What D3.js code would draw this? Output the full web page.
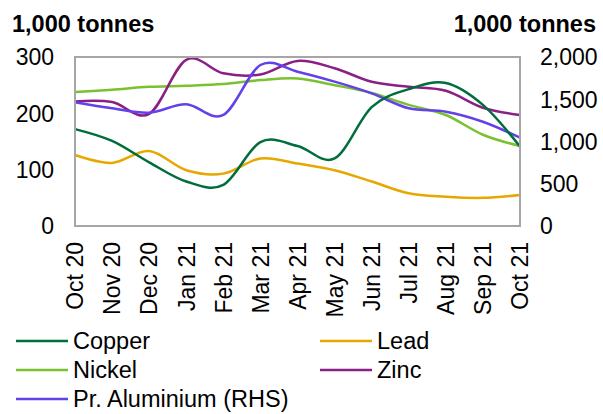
<!DOCTYPE html>
<html>
<head>
<meta charset="utf-8">
<script src="https://cdn.jsdelivr.net/npm/d3@7"></script>
<style>
  body { margin: 0; background: #fff; }
  svg { display: block; font-family: "Liberation Sans", Arial, sans-serif; }
</style>
</head>
<body>
<script>
// months along the x axis
var months = ["Oct 20","Nov 20","Dec 20","Jan 21","Feb 21","Mar 21","Apr 21",
              "May 21","Jun 21","Jul 21","Aug 21","Sep 21","Oct 21"];

// stocks, 1,000 tonnes (left axis)
var copper = [172, 151, 113, 79, 73, 149, 142, 120, 211, 243, 254, 215, 141];
var lead   = [126, 112, 133, 99, 93, 120, 111, 99, 79, 58, 52, 50, 55];
var nickel = [238, 242, 247, 249, 252, 259, 262, 250, 236, 215, 197, 162, 142];
var zinc   = [221, 220, 199, 295, 271, 269, 293, 280, 256, 247, 240, 210, 197];
// right axis
var aluminium = [1464, 1393, 1341, 1440, 1314, 1905, 1826, 1708, 1570, 1393, 1353, 1234, 1045];

var leftTicks = [0, 100, 200, 300];
var rightTicks = [0, 500, 1000, 1500, 2000];

var W = 603, H = 414;
var plot = {left: 75, right: 520, top: 57, bottom: 226};
var fs = 23;      // axis labels
var legFs = 23.5; // legend labels

var svg = d3.select("body").append("svg")
    .attr("width", W)
    .attr("height", H);

var x = d3.scalePoint().domain(months).range([plot.left, plot.right]);
var yL = d3.scaleLinear().domain([0, 300]).range([plot.bottom, plot.top]);
var yR = d3.scaleLinear().domain([0, 2000]).range([plot.bottom, plot.top]);

// units titles
svg.append("text")
    .attr("x", 12).attr("y", 32)
    .attr("font-size", 23.5).attr("font-weight", "bold")
    .text("1,000 tonnes");
svg.append("text")
    .attr("x", 596).attr("y", 32)
    .attr("text-anchor", "end")
    .attr("font-size", 23.5).attr("font-weight", "bold")
    .text("1,000 tonnes");

// y tick labels
svg.selectAll(".ltick").data(leftTicks).enter().append("text")
    .attr("x", 54)
    .attr("y", d => yL(d))
    .attr("dy", "0.36em")
    .attr("text-anchor", "end")
    .attr("font-size", fs)
    .text(d => d3.format(",")(d));

svg.selectAll(".rtick").data(rightTicks).enter().append("text")
    .attr("x", 540)
    .attr("y", d => yR(d))
    .attr("dy", "0.36em")
    .attr("font-size", fs)
    .text(d => d3.format(",")(d));

// x labels, rotated
svg.selectAll(".xlab").data(months).enter().append("text")
    .attr("transform", d => "translate(" + x(d) + ",242) rotate(-90)")
    .attr("dy", "0.36em")
    .attr("text-anchor", "end")
    .attr("font-size", fs)
    .text(d => d);

// series
var series = [
  {name: "Copper", values: copper, color: "#006d3c", scale: yL},
  {name: "Lead", values: lead, color: "#e6a800", scale: yL},
  {name: "Nickel", values: nickel, color: "#7ac130", scale: yL},
  {name: "Zinc", values: zinc, color: "#8a1f86", scale: yL},
  {name: "Pr. Aluminium (RHS)", values: aluminium, color: "#6240ea", scale: yR}
];

// draw order roughly as in the picture
var drawOrder = [1, 2, 3, 4, 0];
drawOrder.forEach(function(k) {
  var s = series[k];
  var line = d3.line()
      .x((d, i) => x(months[i]))
      .y(d => s.scale(d))
      .curve(d3.curveCatmullRom.alpha(0));
  svg.append("path")
      .datum(s.values)
      .attr("fill", "none")
      .attr("stroke", s.color)
      .attr("stroke-width", 2.5)
      .attr("d", line);
});

// plot border
svg.append("rect")
    .attr("x", plot.left).attr("y", plot.top)
    .attr("width", plot.right - plot.left)
    .attr("height", plot.bottom - plot.top)
    .attr("fill", "none")
    .attr("stroke", "#a6a6a6")
    .attr("stroke-width", 2);

// legend
var legPos = [[16, 341], [320, 341], [16, 370], [320, 370], [16, 399]];
series.forEach(function(s, i) {
  var p = legPos[i];
  svg.append("line")
      .attr("x1", p[0]).attr("x2", p[0] + 52)
      .attr("y1", p[1]).attr("y2", p[1])
      .attr("stroke", s.color)
      .attr("stroke-width", 2.5);
  svg.append("text")
      .attr("x", p[0] + 57).attr("y", p[1])
      .attr("dy", "0.36em")
      .attr("font-size", legFs)
      .text(s.name);
});
</script>
</body>
</html>
